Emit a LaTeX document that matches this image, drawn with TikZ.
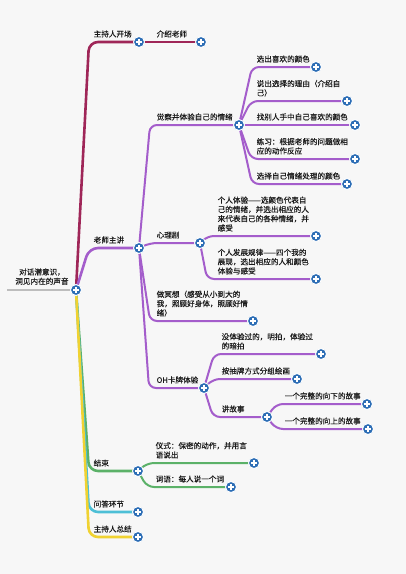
\documentclass[tikz,border=0pt]{standalone}
\usepackage{fontspec}
\setmainfont{Noto Sans CJK SC}[FakeBold=0.35]
\usetikzlibrary{calc}
\definecolor{bg}{HTML}{F7F7F7}
\definecolor{txt}{HTML}{1A1A1A}
\definecolor{plusblue}{HTML}{2C6DB5}
\definecolor{cmaroon}{HTML}{9F2658}
\definecolor{cpurple}{HTML}{A45DCB}
\definecolor{cgreen}{HTML}{5BB168}
\definecolor{ccyan}{HTML}{4DBFD6}
\definecolor{cyellow}{HTML}{F0D232}
\definecolor{cgray}{HTML}{BDBDBD}
\begin{document}
\begin{tikzpicture}[x=1pt,y=-1pt,
  plus/.style={circle, fill=plusblue, draw=white, line width=0.9pt, minimum size=11pt, inner sep=0pt,
    path picture={\draw[white,line width=1.3pt]
      ([xshift=-2.7pt]path picture bounding box.center) -- ([xshift=2.7pt]path picture bounding box.center)
      ([yshift=-2.7pt]path picture bounding box.center) -- ([yshift=2.7pt]path picture bounding box.center);}},
  lbl/.style={font=\fontsize{7.6}{9.3}\selectfont, text=txt, inner sep=0pt, anchor=south west, align=left},
  mainln/.style={line width=2.6pt, line cap=round, rounded corners=9pt},
  subln/.style={line width=2pt, line cap=round, rounded corners=7pt}]
\useasboundingbox[fill=bg] (0,0) rectangle (406,574);

% circles (positions)
\coordinate (rs) at (7,290);
\node[plus] (root) at (76,290) {};
\node[plus] (a) at (139,42) {};
\node[plus] (a1) at (201,42) {};
\node[plus] (b) at (139,248) {};
\node[plus] (b1) at (239,125) {};
\node[plus] (b11) at (316,67) {};
\node[plus] (b12) at (347,101) {};
\node[plus] (b13) at (355,125) {};
\node[plus] (b14) at (355,159) {};
\node[plus] (b15) at (347,184) {};
\node[plus] (b2) at (200,243) {};
\node[plus] (b21) at (316,236) {};
\node[plus] (b22) at (316,279) {};
\node[plus] (b3) at (253,321) {};
\node[plus] (b4) at (204,388) {};
\node[plus] (b41) at (321,354) {};
\node[plus] (b42) at (297,379) {};
\node[plus] (b43) at (267,417) {};
\node[plus] (b431) at (367,404) {};
\node[plus] (b432) at (368,429) {};
\node[plus] (c) at (138,471) {};
\node[plus] (c1) at (254,463) {};
\node[plus] (c2) at (231,487) {};
\node[plus] (d) at (138,512) {};
\node[plus] (e) at (138,537) {};

% connectors
\draw[cgray, line width=2.4pt] (rs) -- (root.center);
\draw[mainln, cmaroon] (root.center) -- ($(root.center |- a.center)+(13,0)$) -- (a.center);
\draw[subln, cmaroon] (a.center) -- (a1.center);
\draw[mainln, cpurple] (root.center) -- ($(root.center |- b.center)+(13,0)$) -- (b.center);
\draw[mainln, cgreen] (root.center) -- ($(root.center |- c.center)+(13,0)$) -- (c.center);
\draw[mainln, ccyan] (root.center) -- ($(root.center |- d.center)+(13,0)$) -- (d.center);
\draw[mainln, cyellow] (root.center) -- ($(root.center |- e.center)+(13,0)$) -- (e.center);

\foreach \p/\q/\dx in {b/b1/11, b/b2/11, b/b3/11, b/b4/10,
    b1/b11/13, b1/b12/12, b1/b13/12, b1/b14/12, b1/b15/13,
    b2/b21/7, b2/b22/7, b4/b41/10, b4/b42/9, b4/b43/9,
    b43/b431/9, b43/b432/9}
  \draw[subln, cpurple] (\p.center) -- ($(\p.center |- \q.center)+(\dx,0)$) -- (\q.center);
\foreach \p/\q/\dx in {c/c1/9, c/c2/9}
  \draw[subln, cgreen] (\p.center) -- ($(\p.center |- \q.center)+(\dx,0)$) -- (\q.center);

% redraw circles on top
\foreach \n in {root,a,a1,b,b1,b11,b12,b13,b14,b15,b2,b21,b22,b3,b4,b41,b42,b43,b431,b432,c,c1,c2,d,e}
  \node[plus] at (\n.center) {};

% labels
\node[lbl, anchor=south, align=center] (lroot) at (42,285) {对话潜意识，\\洞见内在的声音};
\node[lbl] (la) at (93.5,37.7) {主持人开场};
\node[lbl] (la1) at (156.5,37.7) {介绍老师};
\node[lbl] (lb) at (93.5,243.7) {老师主讲};
\node[lbl] (lb1) at (156.5,120.7) {觉察并体验自己的情绪};
\node[lbl] (lb11) at (256.5,62.7) {选出喜欢的颜色};
\node[lbl] (lb12) at (256.5,96.7) {说出选择的理由（介绍自\\己）};
\node[lbl] (lb13) at (256.5,120.7) {找别人手中自己喜欢的颜色};
\node[lbl] (lb14) at (256.5,154.7) {练习：根据老师的问题做相\\应的动作反应};
\node[lbl] (lb15) at (256.5,179.7) {选择自己情绪处理的颜色};
\node[lbl] (lb2) at (156.5,238.7) {心理剧};
\node[lbl] (lb21) at (217.5,231.7) {个人体验——选颜色代表自\\己的情绪，并选出相应的人\\来代表自己的各种情绪，并\\感受};
\node[lbl] (lb22) at (217.5,274.7) {个人发展规律——四个我的\\展现，选出相应的人和颜色\\体验与感受};
\node[lbl] (lb3) at (156.5,316.7) {做冥想（感受从小到大的\\我，照顾好身体，照顾好情\\绪）};
\node[lbl] (lb4) at (156.5,383.7) {OH卡牌体验};
\node[lbl] (lb41) at (221.5,349.7) {没体验过的，明拍，体验过\\的暗拍};
\node[lbl] (lb42) at (221.5,374.7) {按抽牌方式分组绘画};
\node[lbl] (lb43) at (221.5,412.7) {讲故事};
\node[lbl] (lb431) at (284.5,399.7) {一个完整的向下的故事};
\node[lbl] (lb432) at (284.5,424.7) {一个完整的向上的故事};
\node[lbl] (lc) at (93.5,466.7) {结束};
\node[lbl] (lc1) at (155.5,458.7) {仪式：保密的动作，并用言\\语说出};
\node[lbl] (lc2) at (155.5,482.7) {词语：每人说一个词};
\node[lbl] (ld) at (93.5,507.7) {问答环节};
\node[lbl] (le) at (93.5,532.7) {主持人总结};
\end{tikzpicture}
\end{document}
